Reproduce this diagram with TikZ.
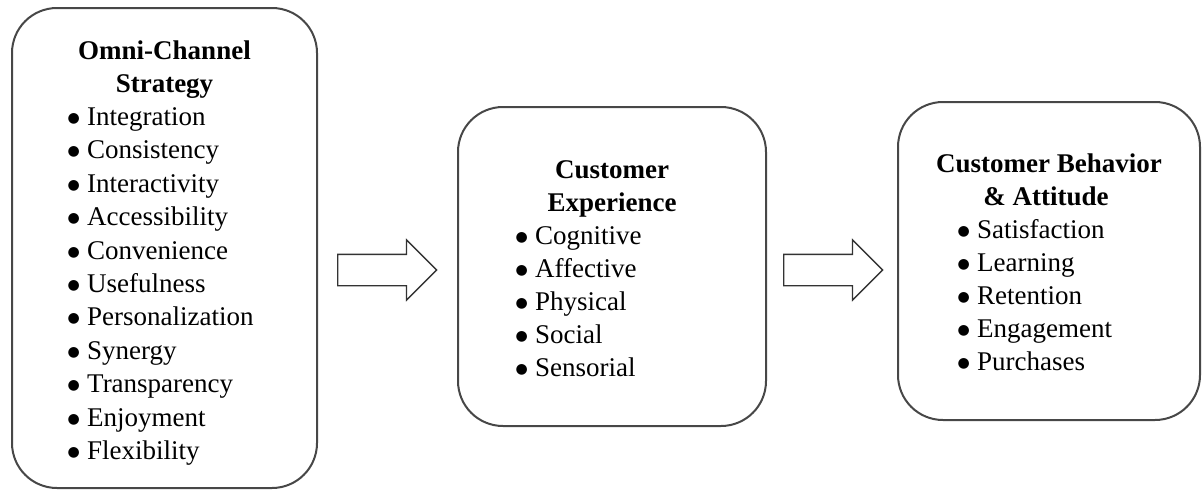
\documentclass[tikz,border=0pt]{standalone}
\usepackage{fontspec}
\setmainfont{Liberation Serif}
\newfontfamily\bulfont{DejaVu Sans}
\usetikzlibrary{shapes.arrows}
\newcommand{\bigbul}{\makebox[21pt][l]{\hspace{1.5pt}\raisebox{3pt}{\bulfont\fontsize{14}{14}\selectfont ●}}}
\begin{document}
\begin{tikzpicture}[x=1pt,y=-1pt,
  box/.style={draw=black!72, line width=2pt, rounded corners=45pt, inner sep=0pt},
  ttl/.style={font=\fontsize{27}{33}\selectfont\bfseries, inner sep=0pt, anchor=base},
  itm/.style={font=\fontsize{27}{33}\selectfont, inner sep=0pt, anchor=base west},
  barrow/.style={draw=black!80, line width=1.3pt, single arrow, single arrow head extend=14.5pt,
    single arrow tip angle=90, minimum height=99pt, minimum width=59pt,
    inner xsep=0pt, inner ysep=15pt, anchor=tail}]
\useasboundingbox (0,0) rectangle (1202,490);
% boxes
\node[box, minimum width=305pt, minimum height=480pt] (b1) at (164.5,248) {};
\node[box, minimum width=308pt, minimum height=319pt] (b2) at (612,266.5) {};
\node[box, minimum width=302pt, minimum height=318pt] (b3) at (1049,261) {};
% arrows
\node[barrow] (a1) at (337,270) {};
\node[barrow] (a2) at (783,270) {};
% box 1
\node[ttl] (t1a) at (164.5,59) {Omni-Channel};
\node[ttl] (t1b) at (164.5,92) {Strategy};
\foreach \t [count=\i] in {Integration,Consistency,Interactivity,Accessibility,Convenience,Usefulness,Personalization,Synergy,Transparency,Enjoyment,Flexibility}
  \node[itm] (b1i\i) at (66,{92.1+33.4*\i}) {\bigbul\t};
% box 2
\node[ttl] (t2a) at (612,178) {Customer};
\node[ttl] (t2b) at (612,211) {Experience};
\foreach \t [count=\i] in {Cognitive,Affective,Physical,Social,Sensorial}
  \node[itm] (b2i\i) at (514,{211+33*\i}) {\bigbul\t};
% box 3
\node[ttl] (t3a) at (1049,172) {Customer Behavior};
\node[ttl] (t3b) at (1046,205) {\& Attitude};
\foreach \t [count=\i] in {Satisfaction,Learning,Retention,Engagement,Purchases}
  \node[itm] (b3i\i) at (956,{205+33*\i}) {\bigbul\t};
\end{tikzpicture}
\end{document}
